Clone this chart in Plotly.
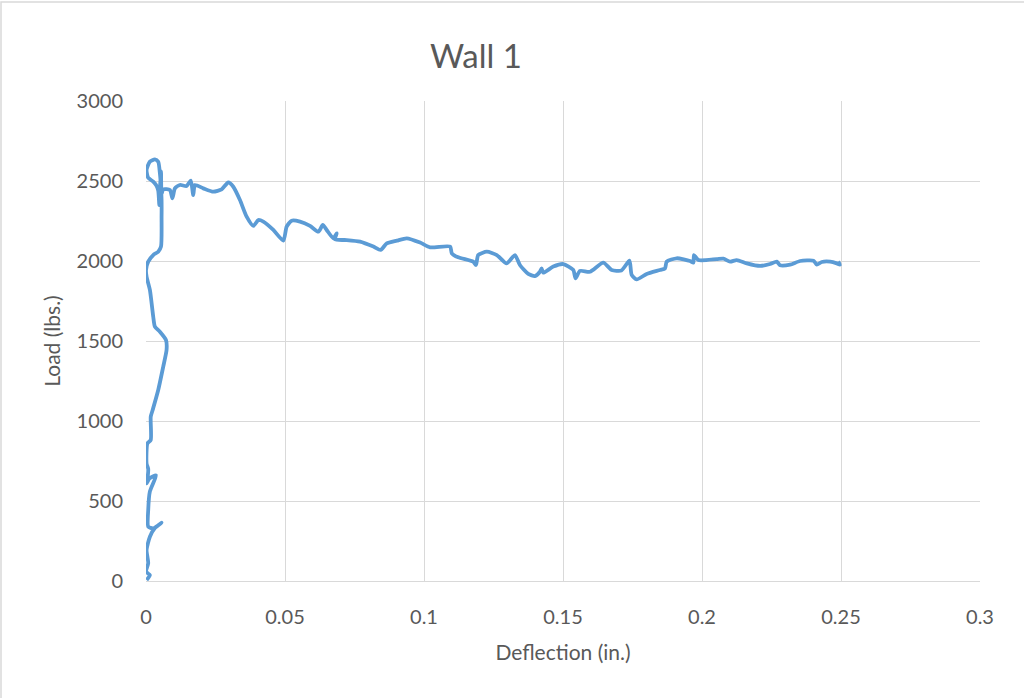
import plotly.graph_objects as go

title_text = "Wall 1"
x_title = "Deflection (in.)"
y_title = "Load (lbs.)"

x_tick_vals = [0, 0.05, 0.1, 0.15, 0.2, 0.25, 0.3]
x_tick_text = ["0", "0.05", "0.1", "0.15", "0.2", "0.25", "0.3"]
y_tick_vals = [0, 500, 1000, 1500, 2000, 2500, 3000]
y_tick_text = ["0", "500", "1000", "1500", "2000", "2500", "3000"]

deflection = [
    0.0002, 0.0014, 0.0, 0.0008, 0.0002, 0.0014, 0.0032, 0.0056, 0.0026, 0.0008,
    0.0008, 0.0014, 0.0036, 0.0012, 0.0002, 0.0006, 0.0008, 0.0002, 0.0005, 0.0017,
    0.0017, 0.0024, 0.0044, 0.0062, 0.0074, 0.0072, 0.0050, 0.0032, 0.0026, 0.0014,
    0.0002, 0.0, 0.0008, 0.0026, 0.0044, 0.0054, 0.0056, 0.0056, 0.0053, 0.0050,
    0.0044, 0.0032, 0.0014, 0.0002, 0.0008, 0.0026, 0.0038, 0.0044, 0.0048, 0.0050,
    0.0054, 0.0056, 0.0062, 0.0086, 0.0095, 0.0104, 0.0122, 0.0146, 0.0161, 0.0170,
    0.0176, 0.0206, 0.0242, 0.0272, 0.0296, 0.0314, 0.0338, 0.0362, 0.0386, 0.0404,
    0.0422, 0.0458, 0.0494, 0.0506, 0.0524, 0.0554, 0.0590, 0.0620, 0.0636, 0.0650,
    0.0674, 0.0686, 0.0680, 0.0722, 0.0770, 0.0818, 0.0844, 0.0866, 0.0902, 0.0938,
    0.0986, 0.1022, 0.1094, 0.1100, 0.1123, 0.1177, 0.1187, 0.1195, 0.1226, 0.1262,
    0.1297, 0.1327, 0.1345, 0.1375, 0.1399, 0.1417, 0.1423, 0.1429, 0.1465, 0.1501,
    0.1537, 0.1545, 0.1561, 0.1597, 0.1645, 0.1675, 0.1710, 0.1739, 0.1747, 0.1765,
    0.1801, 0.1849, 0.1867, 0.1873, 0.1909, 0.1957, 0.1969, 0.1971, 0.1987, 0.2053,
    0.2077, 0.2101, 0.2125, 0.2161, 0.2209, 0.2245, 0.2269, 0.2281, 0.2317, 0.2353,
    0.2401, 0.2413, 0.2431, 0.2461, 0.2485, 0.2496, 0.2490,
]
load = [
    6, 37, 58, 112, 194, 277, 331, 364, 329, 340,
    444, 560, 660, 640, 610, 650, 700, 735, 860, 881,
    1027, 1069, 1194, 1340, 1444, 1506, 1558, 1590, 1652, 1819,
    1902, 1944, 1996, 2037, 2058, 2090, 2277, 2381, 2485, 2548,
    2621, 2635, 2621, 2569, 2520, 2496, 2470, 2440, 2350, 2450,
    2560, 2420, 2448, 2444, 2392, 2454, 2475, 2469, 2502, 2412,
    2475, 2454, 2433, 2448, 2491, 2464, 2381, 2277, 2219, 2256,
    2246, 2194, 2127, 2215, 2252, 2246, 2219, 2183, 2225, 2194,
    2142, 2173, 2135, 2131, 2121, 2090, 2069, 2110, 2127, 2142,
    2115, 2085, 2090, 2048, 2023, 1996, 1975, 2037, 2058, 2037,
    1985, 2037, 1975, 1919, 1906, 1933, 1954, 1927, 1965, 1981,
    1944, 1892, 1938, 1933, 1990, 1944, 1940, 2002, 1913, 1885,
    1919, 1944, 1954, 1996, 2017, 2000, 1990, 2037, 2006, 2012,
    2015, 1996, 2006, 1985, 1969, 1981, 1996, 1973, 1977, 2000,
    2002, 1977, 1994, 1996, 1985, 1977, 1996,
]

FONT = "Lato"
TEXT = "#595959"
GRID = "#d9d9d9"

fig = go.Figure()
fig.add_trace(go.Scatter(
    x=deflection, y=load, mode="lines",
    line=dict(color="#5b9bd5", width=3.8, shape="spline", smoothing=0.6),
    showlegend=False, hoverinfo="x+y",
))

fig.update_layout(
    width=1024, height=698,
    margin=dict(l=146, r=44, t=101, b=117),
    paper_bgcolor="white", plot_bgcolor="white",
    font=dict(family=FONT, color=TEXT, size=20),
    title=dict(text=title_text, x=476 / 1024, xanchor="center",
               y=1 - 56 / 698, yanchor="middle",
               font=dict(family=FONT, size=33, color=TEXT)),
    xaxis=dict(range=[0, 0.3], tickvals=x_tick_vals, ticktext=x_tick_text,
               showgrid=True, gridcolor=GRID, gridwidth=1, zeroline=False,
               showline=True, linecolor=GRID, linewidth=1, mirror=False,
               ticks="", ticklabelstandoff=18,
               tickfont=dict(family=FONT, size=20, color=TEXT),
               title=dict(text=x_title, standoff=18,
                          font=dict(family=FONT, size=21, color=TEXT))),
    yaxis=dict(range=[0, 3000], tickvals=y_tick_vals, ticktext=y_tick_text,
               showgrid=True, gridcolor=GRID, gridwidth=1, zeroline=False,
               showline=False, ticks="", ticklabelstandoff=22,
               tickfont=dict(family=FONT, size=20, color=TEXT),
               title=dict(text=y_title, standoff=10,
                          font=dict(family=FONT, size=21, color=TEXT))),
)

# chart-area border (only top and left edges are visible in the frame)
pw = 1024 - 146 - 44
ph = 698 - 101 - 117
fig.add_shape(type="rect", xref="paper", yref="paper",
              x0=(1 - 146) / pw, x1=(1040 - 146) / pw,
              y0=(698 - 117 - 720) / ph, y1=(698 - 117 - 2) / ph,
              line=dict(color=GRID, width=1.5), fillcolor="rgba(0,0,0,0)",
              layer="below")

fig.write_html("out.html",
               config={"displayModeBar": False},
               post_script="document.body.style.margin='0';document.body.style.overflow='hidden';")
